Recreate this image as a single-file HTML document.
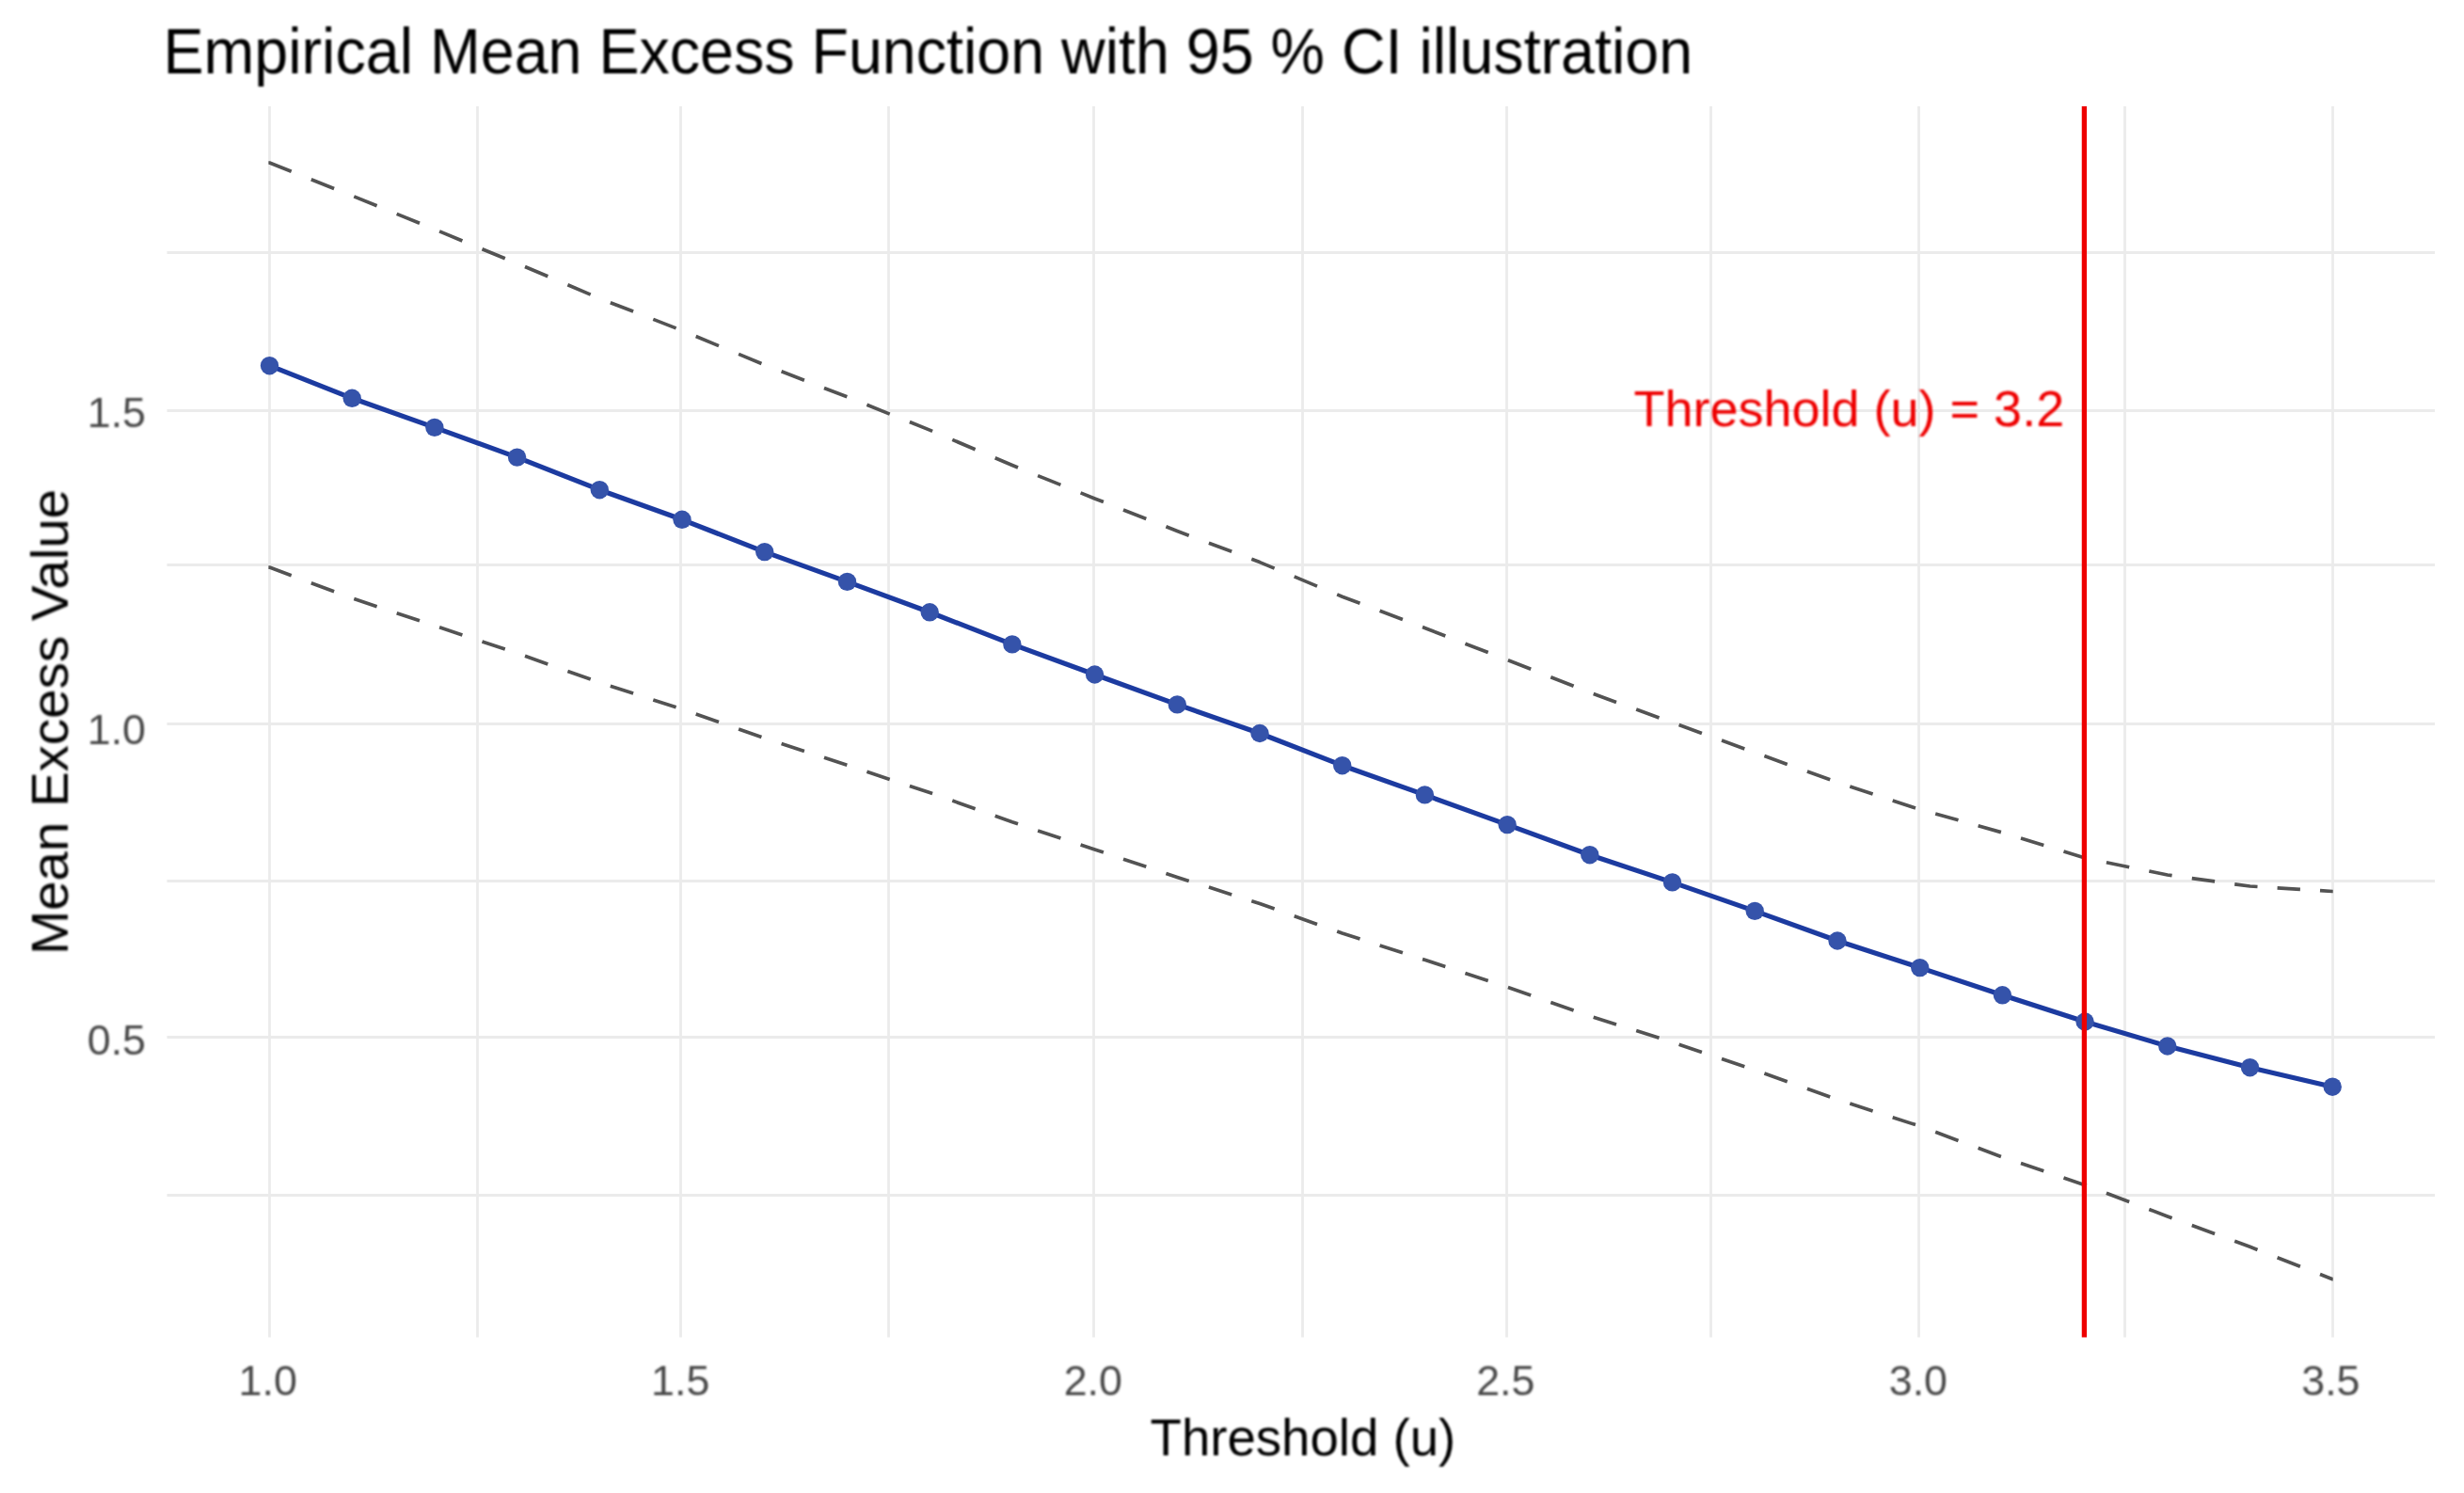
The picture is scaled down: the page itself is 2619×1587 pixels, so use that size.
<!DOCTYPE html>
<html lang="en"><head><meta charset="utf-8">
<title>Empirical Mean Excess Function with 95 % CI illustration</title>
<style>
html,body{margin:0;padding:0;background:#fff;}
body{width:2619px;height:1587px;overflow:hidden;}
svg{display:block;}
text{font-family:"Liberation Sans", Arial, Helvetica, sans-serif;}
</style></head><body>
<svg width="2619" height="1587" viewBox="0 0 2619 1587">
<defs><filter id="soft" x="-2%" y="-2%" width="104%" height="104%"><feGaussianBlur stdDeviation="0.62"/></filter><filter id="softt" x="-2%" y="-2%" width="104%" height="104%"><feGaussianBlur stdDeviation="0.85"/></filter></defs>
<rect x="0" y="0" width="2619" height="1587" fill="#ffffff"/>
<g filter="url(#soft)">
<g stroke="#ebebeb" stroke-width="2.8" fill="none">
<line x1="177.5" y1="268.5" x2="2588.0" y2="268.5"/>
<line x1="177.5" y1="436.5" x2="2588.0" y2="436.5"/>
<line x1="177.5" y1="600.5" x2="2588.0" y2="600.5"/>
<line x1="177.5" y1="769.5" x2="2588.0" y2="769.5"/>
<line x1="177.5" y1="936.5" x2="2588.0" y2="936.5"/>
<line x1="177.5" y1="1102.5" x2="2588.0" y2="1102.5"/>
<line x1="177.5" y1="1270.5" x2="2588.0" y2="1270.5"/>
<line x1="286.5" y1="113.0" x2="286.5" y2="1421.5"/>
<line x1="507.5" y1="113.0" x2="507.5" y2="1421.5"/>
<line x1="723.5" y1="113.0" x2="723.5" y2="1421.5"/>
<line x1="944.5" y1="113.0" x2="944.5" y2="1421.5"/>
<line x1="1162.5" y1="113.0" x2="1162.5" y2="1421.5"/>
<line x1="1384.5" y1="113.0" x2="1384.5" y2="1421.5"/>
<line x1="1601.5" y1="113.0" x2="1601.5" y2="1421.5"/>
<line x1="1818.5" y1="113.0" x2="1818.5" y2="1421.5"/>
<line x1="2039.5" y1="113.0" x2="2039.5" y2="1421.5"/>
<line x1="2258.5" y1="113.0" x2="2258.5" y2="1421.5"/>
<line x1="2479.5" y1="113.0" x2="2479.5" y2="1421.5"/>
</g>
<g stroke="#525252" stroke-width="3.7" fill="none" stroke-linejoin="round">
<path d="M285.4 173.0 L286.5 173.0 L309.7 182.3 M330.8 190.7 L355.1 200.5 M376.3 208.9 L400.6 218.8 M421.7 227.4 L446.0 237.3 M467.1 245.9 L491.4 256.0 M512.5 264.7 L536.8 274.7 M558.0 283.5 L582.3 293.8 M603.4 302.8 L627.7 313.1 M648.8 321.7 L673.1 331.1 M694.3 339.4 L718.6 348.9 M739.7 357.5 L764.0 367.6 M785.1 376.4 L809.4 386.5 M830.6 394.8 L854.9 404.2 M876.0 412.4 L900.3 421.8 M921.4 430.3 L945.7 440.1 M966.9 448.5 L988.2 457.1 L991.1 458.4 M1012.3 467.4 L1036.6 477.8 M1057.7 486.8 L1075.9 494.5 L1082.0 497.0 M1103.1 505.6 L1127.4 515.4 M1148.6 523.9 L1163.6 530.0 L1172.9 533.6 M1194.0 542.0 L1218.3 551.5 M1239.4 559.8 L1251.3 564.5 L1263.7 569.2 M1284.9 577.2 L1309.2 586.3 M1330.3 594.3 L1339.0 597.6 L1354.6 604.1 M1375.7 612.9 L1400.0 623.1 M1421.2 631.9 L1426.7 634.2 L1445.5 641.3 M1466.6 649.3 L1490.9 658.6 M1512.0 666.6 L1514.4 667.5 L1536.3 676.0 M1557.4 684.2 L1581.7 693.5 M1602.9 701.7 L1627.2 711.3 M1648.3 719.7 L1672.6 729.3 M1693.7 737.6 L1718.0 746.4 M1739.2 754.0 L1763.5 762.9 M1784.6 770.5 L1808.9 779.4 M1830.0 787.1 L1854.3 795.9 M1875.4 803.6 L1899.7 812.4 M1920.9 820.0 L1945.2 828.8 M1966.3 836.0 L1990.6 844.0 M2011.7 850.9 L2036.0 858.9 M2057.2 865.0 L2081.5 871.8 M2102.6 877.8 L2126.9 884.6 M2148.0 891.1 L2172.3 898.5 M2193.5 905.0 L2216.1 912.0 L2217.8 912.3 M2238.9 916.7 L2263.2 921.7 M2284.3 926.0 L2303.8 930.0 L2308.6 930.7 M2329.8 933.6 L2354.1 936.9 M2375.2 939.8 L2391.5 942.0 L2399.5 942.5 M2420.6 943.8 L2444.9 945.3 M2466.0 946.7 L2479.2 947.5 L2479.7 947.5"/>
<path d="M285.4 603.1 L286.5 603.1 L309.7 611.8 M330.8 619.7 L355.1 628.8 M376.3 636.6 L400.6 644.7 M421.7 651.7 L446.0 659.8 M467.1 666.8 L491.4 674.9 M512.5 681.9 L536.8 690.0 M558.0 697.2 L582.3 705.9 M603.4 713.4 L627.7 722.1 M648.8 729.2 L673.1 737.1 M694.3 743.9 L718.6 751.7 M739.7 759.0 L764.0 767.6 M785.1 775.0 L809.4 783.6 M830.6 790.6 L854.9 798.5 M876.0 805.3 L900.3 813.2 M921.4 820.3 L945.7 828.4 M966.9 835.4 L988.2 842.6 L991.1 843.6 M1012.3 851.1 L1036.6 859.8 M1057.7 867.3 L1075.9 873.8 L1082.0 875.8 M1103.1 882.9 L1127.4 891.0 M1148.6 898.0 L1163.6 903.0 L1172.9 906.1 M1194.0 913.2 L1218.3 921.3 M1239.4 928.4 L1251.3 932.4 L1263.7 936.4 M1284.9 943.1 L1309.2 950.9 M1330.3 957.7 L1339.0 960.5 L1354.6 966.1 M1375.7 973.7 L1400.0 982.4 M1421.2 990.0 L1426.7 992.0 L1445.5 998.0 M1466.6 1004.9 L1490.9 1012.7 M1512.0 1019.6 L1514.4 1020.3 L1536.3 1027.5 M1557.4 1034.5 L1581.7 1042.5 M1602.9 1049.5 L1627.2 1058.0 M1648.3 1065.4 L1672.6 1073.9 M1693.7 1081.2 L1718.0 1088.9 M1739.2 1095.6 L1763.5 1103.3 M1784.6 1110.2 L1808.9 1118.4 M1830.0 1125.5 L1854.3 1133.8 M1875.4 1141.1 L1899.7 1149.8 M1920.9 1157.3 L1945.2 1166.0 M1966.3 1173.1 L1990.6 1180.9 M2011.7 1187.8 L2036.0 1195.6 M2057.2 1203.3 L2081.5 1212.4 M2102.6 1220.3 L2126.9 1229.4 M2148.0 1236.6 L2172.3 1244.8 M2193.5 1252.0 L2216.1 1259.7 L2217.8 1260.3 M2238.9 1268.3 L2263.2 1277.5 M2284.3 1285.5 L2303.8 1292.9 L2308.6 1294.7 M2329.8 1302.5 L2354.1 1311.5 M2375.2 1319.3 L2391.5 1325.3 L2399.5 1328.4 M2420.6 1336.7 L2444.9 1346.3 M2466.0 1354.5 L2479.2 1359.7 L2479.7 1359.7"/>
</g>
<polyline points="286.5,388.7 374.2,423.3 461.9,454.4 549.6,486.1 637.3,520.7 725.0,552.3 812.7,586.6 900.5,618.4 988.2,650.8 1075.9,684.9 1163.6,717.0 1251.3,748.9 1339.0,779.5 1426.7,813.7 1514.4,844.9 1602.1,876.6 1689.8,908.7 1777.5,937.9 1865.2,968.4 1953.0,1000.0 2040.7,1028.6 2128.4,1057.8 2216.1,1086.0 2303.8,1112.0 2391.5,1134.7 2479.2,1155.2" fill="none" stroke="#1f3ba0" stroke-width="5.2" stroke-linejoin="round" stroke-linecap="round"/>
<g fill="#3653aa">
<circle cx="286.5" cy="388.7" r="9.7"/>
<circle cx="374.2" cy="423.3" r="9.7"/>
<circle cx="461.9" cy="454.4" r="9.7"/>
<circle cx="549.6" cy="486.1" r="9.7"/>
<circle cx="637.3" cy="520.7" r="9.7"/>
<circle cx="725.0" cy="552.3" r="9.7"/>
<circle cx="812.7" cy="586.6" r="9.7"/>
<circle cx="900.5" cy="618.4" r="9.7"/>
<circle cx="988.2" cy="650.8" r="9.7"/>
<circle cx="1075.9" cy="684.9" r="9.7"/>
<circle cx="1163.6" cy="717.0" r="9.7"/>
<circle cx="1251.3" cy="748.9" r="9.7"/>
<circle cx="1339.0" cy="779.5" r="9.7"/>
<circle cx="1426.7" cy="813.7" r="9.7"/>
<circle cx="1514.4" cy="844.9" r="9.7"/>
<circle cx="1602.1" cy="876.6" r="9.7"/>
<circle cx="1689.8" cy="908.7" r="9.7"/>
<circle cx="1777.5" cy="937.9" r="9.7"/>
<circle cx="1865.2" cy="968.4" r="9.7"/>
<circle cx="1953.0" cy="1000.0" r="9.7"/>
<circle cx="2040.7" cy="1028.6" r="9.7"/>
<circle cx="2128.4" cy="1057.8" r="9.7"/>
<circle cx="2216.1" cy="1086.0" r="9.7"/>
<circle cx="2303.8" cy="1112.0" r="9.7"/>
<circle cx="2391.5" cy="1134.7" r="9.7"/>
<circle cx="2479.2" cy="1155.2" r="9.7"/>
</g>
<line x1="2215.4" y1="113.0" x2="2215.4" y2="1421.5" stroke="#ee0000" stroke-width="5.3"/>
</g>
<g filter="url(#softt)">
<text x="2194.2" y="453" font-size="54" fill="#ee0000" text-anchor="end">Threshold (u) = 3.2</text>
<text transform="translate(173.5,78.3) scale(0.9414,1)" font-size="68.6" fill="#000000">Empirical Mean Excess Function with 95 % CI illustration</text>
<g font-size="44.8" fill="#484848">
<text x="155.0" y="454.0" text-anchor="end">1.5</text>
<text x="155.0" y="790.6" text-anchor="end">1.0</text>
<text x="155.0" y="1121.0" text-anchor="end">0.5</text>
<text x="284.7" y="1483.4" text-anchor="middle">1.0</text>
<text x="723.2" y="1483.4" text-anchor="middle">1.5</text>
<text x="1161.8" y="1483.4" text-anchor="middle">2.0</text>
<text x="1600.3" y="1483.4" text-anchor="middle">2.5</text>
<text x="2038.9" y="1483.4" text-anchor="middle">3.0</text>
<text x="2477.4" y="1483.4" text-anchor="middle">3.5</text>
</g>
<text transform="translate(1384.9,1546.8) scale(0.9755,1)" font-size="56" fill="#000000" text-anchor="middle">Threshold (u)</text>
<text transform="translate(72.0,767.4) rotate(-90) scale(1.009,1)" font-size="56" fill="#000000" text-anchor="middle">Mean Excess Value</text>
</g>
</svg>
</body></html>
